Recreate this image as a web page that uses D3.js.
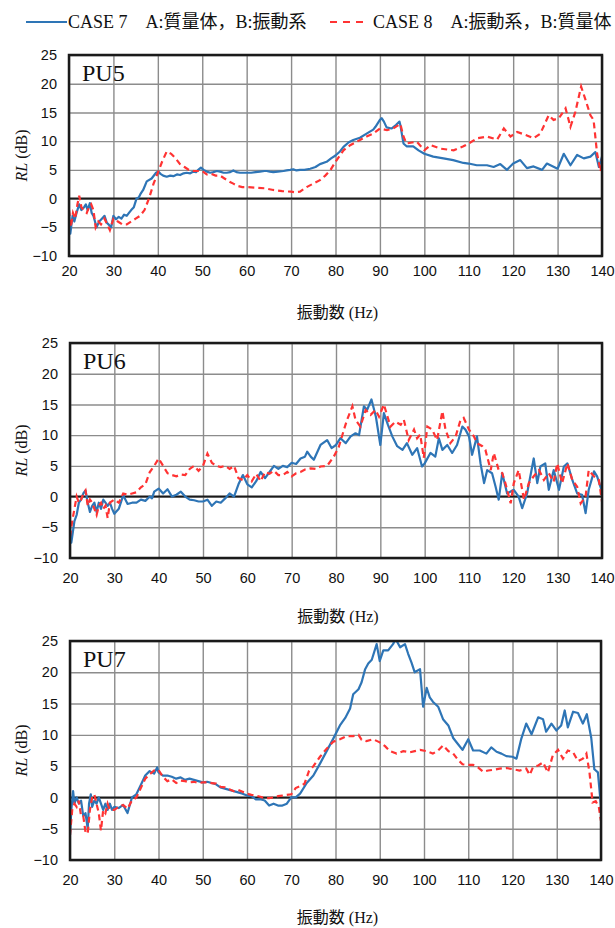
<!DOCTYPE html>
<html>
<head>
<meta charset="utf-8">
<script src="https://cdn.jsdelivr.net/npm/d3@7"></script>
<style>
  html, body { margin: 0; padding: 0; background: #fff; }
  svg { display: block; }
</style>
</head>
<body>
<div id="chart"></div>
<script>
// tick values
const freqTicks = [20, 30, 40, 50, 60, 70, 80, 90, 100, 110, 120, 130, 140];
const rlTicks = [-10, -5, 0, 5, 10, 15, 20, 25];

const legendLabels = ['CASE 7\u3000A:質量体，B:振動系', 'CASE 8\u3000A:振動系，B:質量体'];
const panelNames = ['PU5', 'PU6', 'PU7'];

// [Hz, RL dB]
const pu5Case7 = [[20,-2],[20.3,-6.1],[20.8,-3],[21.2,-4],[21.7,-2.5],[22.3,-1],[22.8,-2],[23.4,-1.5],[23.8,-1],[24.2,-2],[24.7,-0.8],[25.1,-2.5],[25.5,-3],[26.2,-5],[26.8,-4],[27.4,-3.5],[28,-3],[28.5,-4.2],[28.9,-4.5],[29.5,-5],[30,-3],[30.6,-3.6],[31.2,-3.2],[31.8,-3.5],[32.4,-2.8],[33,-3],[33.5,-2.5],[34,-2],[34.6,-1.5],[35.2,0],[35.7,0.2],[36.1,0.8],[36.7,1.5],[37.5,3],[38.6,3.5],[39.6,4.5],[40.1,4.7],[40.6,4.3],[41.2,4],[42,3.8],[42.8,4],[43.5,3.9],[44.3,4.2],[45,4.1],[45.8,4.4],[46.5,4.5],[47.3,4.4],[48,4.7],[48.6,4.6],[49.1,5],[49.7,5.4],[50.3,5],[51,4.7],[51.8,4.5],[52.5,4.6],[53.3,4.8],[54,4.7],[54.8,4.5],[55.5,4.5],[56.3,4.6],[57,4.9],[57.7,4.6],[58.5,4.5],[59.3,4.5],[60,4.5],[61,4.5],[62,4.6],[63,4.7],[64,4.8],[64.5,4.8],[65.2,4.7],[66,4.6],[67,4.7],[68.3,4.8],[69,4.9],[69.8,5],[70.5,5.1],[71.2,4.9],[72,5],[73,5],[74.3,5.2],[75.5,5.5],[76.5,6],[78,6.4],[79,7],[80,7.5],[81,8.2],[81.8,9],[83,9.8],[84,10.2],[85.5,10.6],[87,11.3],[88.5,12],[89,12.5],[90,13.7],[90.4,14],[90.9,13.4],[91.5,12.4],[92.6,12.2],[93.6,12.8],[94.4,13.4],[94.6,12.8],[95.3,9.6],[96,9.1],[97.5,9.1],[98.7,8.4],[100,7.8],[102,7.3],[104.3,7],[106.5,6.7],[108.8,6.2],[110,6.1],[111.8,5.8],[114.1,5.8],[115.6,5.5],[117.1,6],[118.6,5],[120,6.1],[121.6,6.7],[123.1,5.3],[124.6,5.6],[126.5,5],[127.6,6.1],[130,5.2],[131.4,7.8],[132.9,5.8],[134.4,7.6],[135.9,7],[137.4,7.3],[138.5,8.1],[139.3,5.5],[140,7.3]];
const pu5Case8 = [[20,-2],[20.4,-5],[20.9,-2.5],[21.4,-3.5],[21.9,-1],[22.3,0.5],[22.8,-1.5],[23.3,-2],[24,-2.5],[24.5,-1.5],[25,-1],[25.5,-2],[26,-5],[26.6,-4],[27.2,-4.5],[28,-3.5],[28.6,-4.5],[29.2,-5.5],[30,-3.5],[31,-4],[32,-4.5],[33,-4.5],[34,-4],[35,-3.5],[36,-3],[37,-2],[38,0],[39,2.5],[40,4.5],[41,6.5],[42,8.2],[43,7.8],[44,7],[45,6],[46,5.5],[47,5],[48,4.8],[49,4.8],[50,4.8],[51,4.2],[52,4.3],[53,4],[54,4],[55,3.5],[56,3],[57,2.6],[58,2.2],[59,2],[60,2],[62,1.9],[64,1.8],[66,1.5],[68,1.3],[70,1.2],[71,1.1],[72,1.2],[73.5,2],[75,2.6],[76.5,3.2],[77.7,4],[78.8,4.9],[80,6.4],[81.8,8.4],[83.3,9.3],[84.8,9.9],[87,10.8],[88.5,11.3],[90,12.2],[91.6,11.9],[93,12.2],[94.6,13],[95.3,10.8],[96,9.6],[98.3,9.9],[100,8.4],[101.4,9.3],[103.6,8.7],[106.6,8.4],[108.8,9.1],[110,9.6],[111.9,10.5],[114.1,10.8],[116.4,10.3],[117.9,12.2],[119.4,10.8],[120.9,11.6],[123.1,11],[124.6,10.5],[126.1,11.3],[128,14.5],[129.1,13.7],[130.3,14],[131.8,15.7],[132.9,12.5],[134,15.1],[135.3,19.5],[136.2,17.4],[137.4,14.5],[138.1,13.7],[138.9,7.8],[139.7,4.7],[140,7]];

const pu6Case7 = [[20,-5],[20.3,-7.5],[20.7,-5.5],[21,-4],[21.5,-3],[22,-1],[22.5,-0.5],[23,0.5],[23.5,1],[24,-1],[24.5,-2.5],[25,-1.5],[25.5,-1],[26,-2.5],[26.5,-1],[27,-2],[27.5,-0.5],[28,-1],[28.5,-1.5],[29,-1],[29.5,-2],[30,-2.8],[31,-2],[32,0.2],[33,-1.2],[34,-1],[35,-1],[36,-0.5],[37,-0.7],[38,0],[38.5,-0.3],[39,0.8],[40,1.3],[41,0.5],[42,1.2],[43,0],[44,0.3],[45,0.8],[46,0],[47,-0.5],[48,-0.6],[49,-0.8],[50,-0.8],[51,-0.5],[52,-1.5],[53,-0.8],[54,-1],[55,-0.3],[56,0.5],[57,0],[58,2],[59,3.5],[60,2],[61,1.5],[62,2.5],[63,4],[64,3],[65,4],[66,5],[67,4.5],[68,5],[69,4.8],[70,5.5],[71,5.3],[72,6.2],[73,6.5],[73.5,7.3],[74.3,6.5],[75,6],[76.5,8.4],[78,9.2],[79,7.9],[80,8.4],[81,9.5],[82.2,8.7],[83.3,9.8],[84.4,10.3],[85.2,10],[86.3,14.7],[87,14.1],[88,15.8],[89,13],[90,8.4],[90.8,13.6],[91.7,11.7],[92.7,9.8],[93.8,8.2],[95,7.6],[96,8.7],[97.2,6.8],[98.3,7.9],[99.4,4.9],[100,5.4],[101.3,7.1],[102.4,6.5],[103.2,9.5],[104,7.6],[105.1,8.4],[106.2,7.1],[107.3,8.4],[108.5,11.4],[109.2,10.9],[110,9.8],[110.7,6.8],[111.8,9.8],[112.6,5.4],[113.4,2.2],[114.1,4.3],[115.2,3.8],[116,1.6],[116.7,-0.5],[117.5,3.8],[118.6,0.5],[120.1,1.1],[121.2,0],[122,-1.9],[123.1,0.5],[124.6,6.2],[125.4,2.2],[126.1,4.9],[127.2,5.4],[128,1.1],[129.1,4.3],[130.3,1.1],[131.4,4.9],[132.2,5.4],[133.3,2.7],[134.4,0.5],[135.5,0.3],[136.3,-2.7],[137,1.1],[138.2,4.1],[138.9,3.3],[140,0.8]];
const pu6Case8 = [[20,-6.5],[20.5,-4],[21,-2],[21.5,0],[22,-1],[22.5,-0.5],[23,0.5],[23.5,1],[24,-1.5],[24.5,-0.5],[25,-1],[25.5,-2],[26,-3],[26.5,-1.5],[27,-1],[27.5,-2],[28,-1.5],[28.5,-3.5],[29,-1],[30,-0.5],[31,-1],[32,0.5],[33,0.3],[34,0.5],[35,0.7],[36,1.5],[37,2],[38,4],[39,5],[40,6.2],[41,5],[42,3.8],[43,3.5],[44,3.3],[45,3.6],[46,3.5],[47,4.5],[48,5],[49,4.2],[50,5],[51,7],[52,5.5],[53,5],[54,4.8],[55,5],[56,4.5],[57,5],[58,3],[59,2.7],[60,3.5],[61,2.5],[62,3.7],[63,2.5],[64,4],[65,3.7],[66,4.2],[67,3.5],[68,3.5],[69,4],[70,3.3],[71,3.8],[72,4],[73,4.4],[74.3,4.6],[75.5,4.5],[76.5,4.9],[78,5],[79.5,6.5],[80.6,8],[81.8,10.9],[82.5,12.5],[83.7,14.7],[84.4,12.5],[85.5,11.4],[86.7,14.1],[87.8,13.3],[88.9,14.1],[89.7,13],[90.8,15],[91.5,13.3],[92.3,11.4],[93.4,12.2],[94.6,11.7],[95.3,12.5],[96.4,9.2],[97.6,10.9],[98.3,9.5],[99,10.1],[99.8,6.3],[100.6,11.4],[101.7,10.9],[102.8,9.2],[104,13.9],[104.7,10.9],[105.8,8.7],[107,9.8],[108.1,12.5],[108.8,12.8],[110,10.9],[111.1,9.8],[111.8,8.7],[113,8.2],[113.7,7.6],[114.9,4.3],[115.6,7.1],[116.7,4.3],[117.5,3.8],[118.2,2.2],[119.4,-1.1],[120.1,2.2],[121.2,4.3],[122.4,-0.5],[123.5,2.2],[124.6,3.3],[125.8,4.3],[126.9,2.7],[128,3.8],[129.1,2.4],[129.9,5.4],[131,2.2],[132.2,5.4],[133.3,2.7],[134.4,1.6],[135.2,-1.1],[136.3,0],[137,4.3],[138.2,3.3],[139.3,2.7],[140,-0.8]];

const pu7Case7 = [[20,-6],[20.3,-2],[20.7,1],[21,-1],[21.5,0],[22,-1],[22.5,-0.5],[23,-3],[23.5,-2.5],[24,-5],[24.3,-1],[24.7,0.5],[25,-1.5],[25.5,-0.5],[26,-1],[26.5,0],[27,-1],[27.5,-2],[28,-1],[28.5,-2],[29,-1],[29.5,-2],[30,-1.5],[31,-1.7],[32,-1.2],[33,-2.5],[34,0],[35,0.5],[36,2],[37,3.5],[38,4.2],[39,3.8],[39.7,4.8],[40,4],[41,3.5],[42,3.5],[43,3.3],[44,3],[45,3.2],[46,2.8],[47,3],[48,2.8],[49,2.6],[50,2.4],[51,2.5],[52,2.3],[53,2.1],[54,1.6],[55,1.4],[56,1.2],[57,1],[58,0.8],[59,0.6],[60,0.3],[61,0.2],[62,-0.3],[63,-0.3],[64,-0.5],[65,-1.3],[66,-1],[67,-1.3],[68,-1.3],[69,-1],[70,0],[71,0],[72,0.6],[73.5,2.3],[75,3.5],[76.5,5.4],[78,7.4],[79.5,9.4],[81,11.5],[82.2,12.7],[83.3,14.2],[84,16.5],[85.2,17.3],[85.9,18.4],[86.7,20.5],[87.4,21.4],[88.2,22],[89.3,24.5],[90,21.8],[90.8,23.5],[91.9,23.5],[93,24.5],[93.6,25.3],[94.6,24],[95.7,24.5],[96.4,23],[97.2,21.5],[97.9,20],[99.1,20.5],[99.8,14.5],[100.6,17.5],[101.3,16],[102,15.3],[103.2,14.5],[104.3,12.5],[105.5,11.5],[106.6,9.5],[107.7,8.5],[108.7,7.6],[110,9.3],[111.1,7.5],[112.6,7.5],[114.1,7],[115.2,8],[116.4,7.3],[117.5,7],[118.6,6.6],[120,6.5],[120.9,6.2],[122,9.4],[123.1,11.8],[124.3,10.1],[125.8,12.8],[126.9,12.5],[127.6,10.5],[128.8,11.8],[129.9,10.7],[131,11.5],[131.8,13.9],[132.5,11.2],[133.7,13.7],[134.8,13.5],[135.9,11.8],[136.8,13.3],[137.8,9.5],[138.5,4.5],[139.3,4],[140,-1.5]];
const pu7Case8 = [[20,-6],[20.5,-2],[21,-1],[21.5,-1.5],[22,-0.5],[22.5,-3],[23,-3],[23.5,-5.5],[24,-5.8],[24.5,-2],[25,0],[25.5,0.5],[26,-1],[26.5,-2.5],[27,-5.3],[27.5,-2],[28,-2.5],[28.5,-1],[29,-2],[30,-2],[31,-1.5],[32,-1.2],[33,-1.8],[34,-0.5],[35,0],[36,1.5],[37,3],[38,3.7],[39,4.3],[40,4.4],[41,3.3],[42,2.6],[43,2.9],[44,2.3],[45,2.7],[46,2.6],[47,2.4],[48,2.5],[49,2.3],[50,2.4],[51,2.4],[52,2.3],[53,2.2],[54,1.7],[55,1.6],[56,1.3],[57,1],[58,1.2],[59,0.9],[60,0.6],[61,0.4],[62,0.3],[63,0.1],[64,-0.1],[65,-0.1],[66,0],[67,0.2],[68,0.3],[69,0.4],[70,0.5],[71,1.5],[72,1.8],[73,2.2],[74,4.2],[75,5],[76.5,6.5],[78,7.8],[79.5,8.9],[81,9.3],[82.5,9.8],[84,9.8],[85.2,10],[85.9,9.2],[87,9],[88.5,9.3],[90,8.8],[91.2,8.2],[92.3,7.4],[93.8,7],[95.3,7.4],[96.8,7.2],[97.9,7.4],[99.1,7.6],[100.6,7.4],[102,7],[103.2,7.5],[104.3,8.3],[105.5,7.4],[106.6,7],[107.7,6],[108.7,5.3],[110,5.2],[111.1,5.2],[112.2,4.8],[113.4,4.1],[114.5,4.3],[115.6,4.4],[117.1,4.6],[118.6,4.7],[120.1,4.5],[121.6,4.3],[123.1,4.6],[123.9,3.6],[124.6,4.8],[125.8,5.1],[126.9,5.6],[128,4],[129.1,6.7],[130.3,7.6],[131.4,6.2],[132.5,7.5],[133.7,7.2],[134.8,5.8],[135.9,6.2],[136.7,7],[137.4,4],[138.1,-0.8],[138.8,-0.6],[139.5,-1.5],[140,-3.8]];

const blue = '#2e75b6';
const red = '#ff3333';
const width = 615;
const height = 928;

// pixel boxes of the three plots
const panels = [
  { name: panelNames[0], c7: pu5Case7, c8: pu5Case8, left: 69, right: 602, top: 55, bottom: 256, tickY: 276, titleY: 318 },
  { name: panelNames[1], c7: pu6Case7, c8: pu6Case8, left: 70, right: 602, top: 343, bottom: 558, tickY: 583, titleY: 622 },
  { name: panelNames[2], c7: pu7Case7, c8: pu7Case8, left: 70, right: 601, top: 641, bottom: 860, tickY: 885, titleY: 923 }
];

const serif = '"Liberation Serif", "Times New Roman", "Noto Sans CJK JP", serif';
const sans = '"Liberation Sans", Arial, sans-serif';
const cjk = '"Noto Sans CJK JP", sans-serif';

const svg = d3.select('#chart')
  .append('svg')
  .attr('width', width)
  .attr('height', height);

// Legend
const legend = svg.append('g');
legend.append('line')
  .attr('x1', 26).attr('x2', 67).attr('y1', 22).attr('y2', 22)
  .attr('stroke', blue).attr('stroke-width', 2);
legend.append('text')
  .attr('x', 68).attr('y', 28)
  .attr('fill', '#111')
  .style('font-family', serif).style('font-size', '18px')
  .text(legendLabels[0]);
legend.append('line')
  .attr('x1', 330).attr('x2', 364).attr('y1', 22).attr('y2', 22)
  .attr('stroke', red).attr('stroke-width', 2)
  .attr('stroke-dasharray', '7,6');
legend.append('text')
  .attr('x', 373).attr('y', 28)
  .attr('fill', '#111')
  .style('font-family', serif).style('font-size', '18px')
  .text(legendLabels[1]);

panels.forEach((p, i) => {
  const w = p.right - p.left;
  const h = p.bottom - p.top;

  const x = d3.scaleLinear().domain([20, 140]).range([0, w]);
  const y = d3.scaleLinear().domain([-10, 25]).range([h, 0]);

  const g = svg.append('g')
    .attr('transform', `translate(${p.left},${p.top})`);

  // grid
  g.append('g')
    .attr('transform', `translate(0,${h})`)
    .call(d3.axisBottom(x).tickValues(freqTicks).tickSize(-h).tickFormat(''))
    .call(s => s.select('.domain').remove())
    .call(s => s.selectAll('line').attr('stroke', '#8c8c8c').attr('stroke-width', 1.4));

  g.append('g')
    .call(d3.axisLeft(y).tickValues(rlTicks).tickSize(-w).tickFormat(''))
    .call(s => s.select('.domain').remove())
    .call(s => s.selectAll('line').attr('stroke', '#8c8c8c').attr('stroke-width', 1.4));

  // zero line
  g.append('line')
    .attr('x1', 0).attr('x2', w)
    .attr('y1', y(0)).attr('y2', y(0))
    .attr('stroke', '#1a1a1a').attr('stroke-width', 2);

  // tick labels
  const yAxis = g.append('g')
    .call(d3.axisLeft(y).tickValues(rlTicks).tickSize(0).tickPadding(12))
    .call(s => s.select('.domain').remove());
  yAxis.selectAll('text')
    .style('font-family', sans).style('font-size', '14.5px').attr('fill', '#111');

  const xAxis = g.append('g')
    .attr('transform', `translate(0,${h})`)
    .call(d3.axisBottom(x).tickValues(freqTicks).tickSize(0))
    .call(s => s.select('.domain').remove());
  xAxis.selectAll('text')
    .attr('y', p.tickY - p.bottom).attr('dy', 0)
    .style('font-family', sans).style('font-size', '14.5px').attr('fill', '#111');

  // lines
  const clipId = 'clip' + i;
  g.append('clipPath').attr('id', clipId)
    .append('rect').attr('width', w).attr('height', h);

  const line = d3.line()
    .x(d => x(d[0]))
    .y(d => y(d[1]));

  g.append('path')
    .datum(p.c7)
    .attr('clip-path', `url(#${clipId})`)
    .attr('fill', 'none')
    .attr('stroke', blue)
    .attr('stroke-width', 2.2)
    .attr('stroke-linejoin', 'round')
    .attr('d', line);

  g.append('path')
    .datum(p.c8)
    .attr('clip-path', `url(#${clipId})`)
    .attr('fill', 'none')
    .attr('stroke', red)
    .attr('stroke-width', 2.2)
    .attr('stroke-dasharray', '6,4')
    .attr('d', line);

  // frame
  g.append('rect')
    .attr('width', w).attr('height', h)
    .attr('fill', 'none')
    .attr('stroke', '#1a1a1a')
    .attr('stroke-width', 2.5);

  // panel name
  g.append('text')
    .attr('x', 13).attr('y', 26)
    .attr('fill', '#111')
    .style('font-family', serif).style('font-size', '24px')
    .text(p.name);

  // y title
  const yt = svg.append('text')
    .attr('transform', `translate(27,${(p.top + p.bottom) / 2}) rotate(-90)`)
    .attr('text-anchor', 'middle')
    .attr('fill', '#111')
    .style('font-family', serif).style('font-size', '16px');
  yt.append('tspan').style('font-style', 'italic').text('RL');
  yt.append('tspan').text(' (dB)');

  // x title
  const xt = svg.append('text')
    .attr('x', (p.left + p.right) / 2 + 2).attr('y', p.titleY)
    .attr('text-anchor', 'middle')
    .attr('fill', '#111');
  xt.append('tspan').style('font-family', cjk).style('font-size', '16px').text('振動数');
  xt.append('tspan').style('font-family', serif).style('font-size', '16px').text(' (Hz)');
});
</script>
</body>
</html>
